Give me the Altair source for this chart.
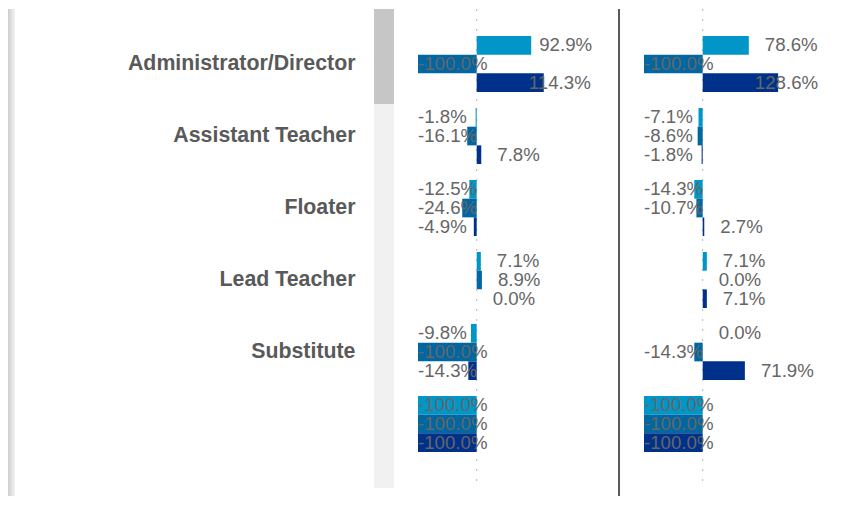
import altair as alt
import pandas as pd

categories = ["Administrator/Director", "Assistant Teacher", "Floater",
              "Lead Teacher", "Substitute", " "]
series = ["Series 1", "Series 2", "Series 3"]
panels = ["Left", "Right"]

left_s1 = [92.9, -1.8, -12.5, 7.1, -9.8, -100.0]
left_s2 = [-100.0, -16.1, -24.6, 8.9, -100.0, -100.0]
left_s3 = [114.3, 7.8, -4.9, 0.0, -14.3, -100.0]
right_s1 = [78.6, -7.1, -14.3, 7.1, 0.0, -100.0]
right_s2 = [-100.0, -8.6, -10.7, 0.0, -14.3, -100.0]
right_s3 = [128.6, -1.8, 2.7, 7.1, 71.9, -100.0]

colors = ["#0096c8", "#0067a3", "#00318a"]

panel_values = {
    "Left": [left_s1, left_s2, left_s3],
    "Right": [right_s1, right_s2, right_s3],
}
rows = []
for p in panels:
    for s, vals in zip(series, panel_values[p]):
        for c, v in zip(categories, vals):
            rows.append({"panel": p, "series": s, "category": c,
                         "value": v, "label": f"{v:.1f}%"})
df = pd.DataFrame(rows)
one = pd.DataFrame({"z": [0]})

W, H = 423, 479
DOMAIN = [-100, 235]
PANEL_W = 196.6
K = PANEL_W / (DOMAIN[1] - DOMAIN[0])
ranges = {"Left": [0, PANEL_W], "Right": [226, 226 + PANEL_W]}

label_font = "Arial, Liberation Sans, sans-serif"

y_enc = alt.Y(
    "category:N", sort=categories, title=None,
    scale=alt.Scale(domain=categories, paddingInner=0.222,
                    paddingOuter=0.4375, align=0.429),
    axis=alt.Axis(ticks=False, domain=False, grid=False, labelPadding=63,
                  labelFont=label_font, labelFontSize=21.33,
                  labelFontWeight="bold", labelColor="#595959",
                  labelLimit=400),
)
yoff_enc = alt.YOffset("series:N", sort=series,
                       scale=alt.Scale(paddingInner=0, paddingOuter=0))
color_enc = alt.Color("series:N", sort=series, legend=None,
                      scale=alt.Scale(domain=series, range=colors))


def xscale(p):
    return alt.Scale(domain=DOMAIN, range=ranges[p], nice=False)


layers = []

# decorations: left shadow, scrollbar track & thumb, divider
shadow = alt.Chart(one).mark_rect(
    fill=alt.LinearGradient(
        gradient="linear", x1=0, x2=1, y1=0, y2=0,
        stops=[alt.GradientStop(color="#cdcdcd", offset=0),
               alt.GradientStop(color="#f3f3f3", offset=1)])
).encode(x=alt.value(-410), x2=alt.value(-403),
         y=alt.value(0), y2=alt.value(H + 8))
track = alt.Chart(one).mark_rect(fill="#f1f1f1").encode(
    x=alt.value(-44), x2=alt.value(-24), y=alt.value(0), y2=alt.value(H))
thumb = alt.Chart(one).mark_rect(fill="#c6c6c6").encode(
    x=alt.value(-44), x2=alt.value(-24), y=alt.value(0), y2=alt.value(95))
divider = alt.Chart(one).mark_rule(color="#5a5a5a", strokeWidth=2).encode(
    x=alt.value(201), y=alt.value(0), y2=alt.value(H + 8))
layers += [shadow, track, thumb, divider]

for p in panels:
    sub = df[df["panel"] == p]
    zero = alt.Chart(one).mark_rule(
        color="#b5b5b5", strokeDash=[2, 8], strokeWidth=1
    ).encode(x=alt.X(datum=0, scale=xscale(p), axis=None),
             y=alt.value(0), y2=alt.value(H))
    bars = alt.Chart(sub).mark_bar().encode(
        x=alt.X("value:Q", scale=xscale(p), axis=None),
        y=y_enc, yOffset=yoff_enc, color=color_enc,
    )
    text = alt.Chart(sub).transform_calculate(
        lx=f"datum.value >= 0 ? min(datum.value + 16 / {K}, "
           f"(115.5 - ((length(datum.label) - 2) * 10.38 + 21.8)) / {K}) : -100"
    ).mark_text(align="left", baseline="middle", font=label_font,
                fontSize=18.67, color="#666666").encode(
        x=alt.X("lx:Q", scale=xscale(p), axis=None),
        y=y_enc, yOffset=yoff_enc, text="label:N",
    )
    layers += [zero, bars, text]

chart = alt.layer(*layers).resolve_scale(x="independent").properties(
    width=W, height=H, padding=0
).configure_view(stroke=None)

chart.save("out.html", embed_options={"renderer": "svg", "actions": False})
